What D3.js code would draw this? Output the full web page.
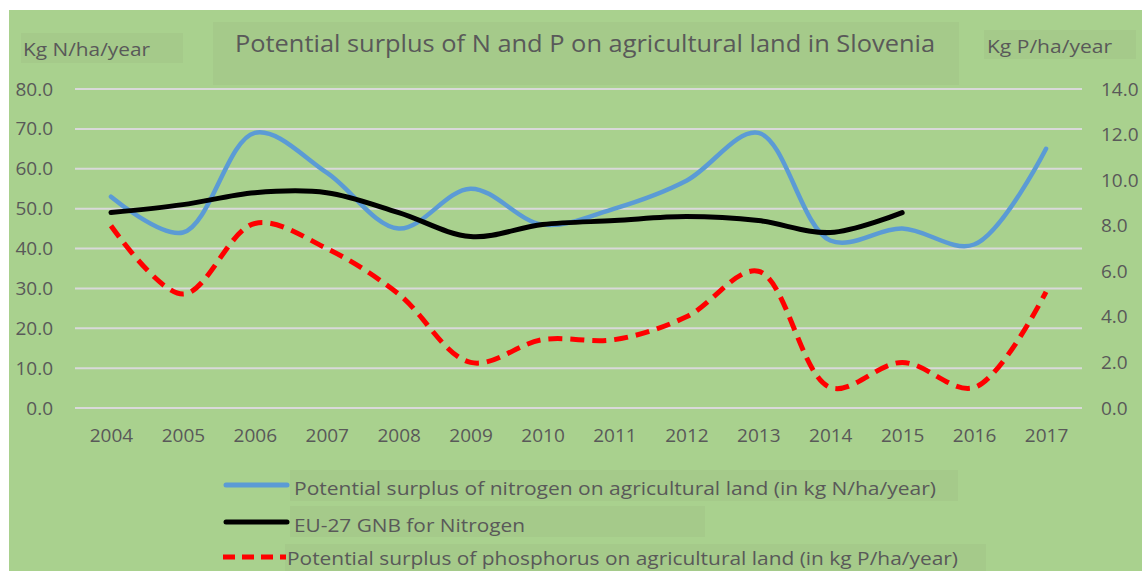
<!DOCTYPE html>
<html>
<head>
<meta charset="utf-8">
<script src="https://cdn.jsdelivr.net/npm/d3@7"></script>
<style>
  body { margin: 0; background: #fff; }
  text { font-family: "Open Sans", sans-serif; fill: #595959; }
</style>
</head>
<body>
<div class="chart"></div>
<script>
var years = [2004, 2005, 2006, 2007, 2008, 2009, 2010, 2011, 2012, 2013, 2014, 2015, 2016, 2017];
var nitrogen = [53, 44, 69, 59, 45, 55, 46, 50, 57, 69, 42, 45, 41, 65];
var euGnb = [49, 51, 54, 54, 49, 43, 46, 47, 48, 47, 44, 49];
var phosphorus = [8.0, 5.0, 8.1, 7.0, 5.0, 2.0, 3.0, 3.0, 4.0, 6.0, 0.9, 2.0, 0.9, 5.1];
var leftTicks = [0, 10, 20, 30, 40, 50, 60, 70, 80];
var rightTicks = [0, 2, 4, 6, 8, 10, 12, 14];
var legendLabels = [
  "Potential surplus of nitrogen on agricultural land (in kg N/ha/year)",
  "EU-27 GNB for Nitrogen",
  "Potential surplus of phosphorus on agricultural land (in kg P/ha/year)"
];

var svgWidth = 1142;
var svgHeight = 571;

var svg = d3.select(".chart")
  .append("svg")
  .attr("width", svgWidth)
  .attr("height", svgHeight);

// green panel
svg.append("rect")
  .attr("x", 9).attr("y", 10)
  .attr("width", svgWidth - 9).attr("height", svgHeight - 10)
  .attr("fill", "#a9d18e");

var boxFill = "#a5ca8a";

// scales
var x = d3.scalePoint().domain(years).range([75, 1082]).padding(0.5);
var yLeft = d3.scaleLinear().domain([0, 80]).range([408, 89]);
var yRight = d3.scaleLinear().domain([0, 14]).range([408, 89]);

// gridlines
svg.append("g")
  .selectAll("line")
  .data(leftTicks)
  .enter().append("line")
    .attr("x1", 75).attr("x2", 1082)
    .attr("y1", function(d) { return yLeft(d); })
    .attr("y2", function(d) { return yLeft(d); })
    .attr("stroke", "#d9d9d9")
    .attr("stroke-width", 2);

// axis labels
var leftAxis = d3.axisLeft(yLeft).tickValues(leftTicks).tickFormat(d3.format(".1f")).tickSize(0).tickPadding(0);
var gl = svg.append("g").attr("transform", "translate(53,0)").call(leftAxis);
gl.select(".domain").remove();
gl.selectAll("text").attr("font-size", 19).attr("fill", "#595959").attr("font-family", "Open Sans");

var rightAxis = d3.axisRight(yRight).tickValues(rightTicks).tickFormat(d3.format(".1f")).tickSize(0).tickPadding(0);
var gr = svg.append("g").attr("transform", "translate(1101,0)").call(rightAxis);
gr.select(".domain").remove();
gr.selectAll("text").attr("font-size", 19).attr("fill", "#595959").attr("font-family", "Open Sans");

var bottomAxis = d3.axisBottom(x).tickSize(0).tickPadding(0);
var gb = svg.append("g").attr("transform", "translate(0,428)").call(bottomAxis);
gb.select(".domain").remove();
gb.selectAll("text").attr("font-size", 19).attr("fill", "#595959").attr("font-family", "Open Sans");

// titles with their boxes
svg.append("rect").attr("x", 213).attr("y", 22).attr("width", 746).attr("height", 63).attr("fill", boxFill);
svg.append("text")
  .attr("x", 235).attr("y", 52)
  .attr("font-size", 24)
  .attr("textLength", 700).attr("lengthAdjust", "spacingAndGlyphs")
  .text("Potential surplus of N and P on agricultural land in Slovenia");

svg.append("rect").attr("x", 21).attr("y", 33).attr("width", 162).attr("height", 30).attr("fill", boxFill);
svg.append("text")
  .attr("x", 23).attr("y", 56)
  .attr("font-size", 19)
  .attr("textLength", 127).attr("lengthAdjust", "spacingAndGlyphs")
  .text("Kg N/ha/year");

svg.append("rect").attr("x", 984).attr("y", 30).attr("width", 152).attr("height", 29).attr("fill", boxFill);
svg.append("text")
  .attr("x", 987).attr("y", 53)
  .attr("font-size", 19)
  .attr("textLength", 125).attr("lengthAdjust", "spacingAndGlyphs")
  .text("Kg P/ha/year");

// lines
var curve = d3.curveCatmullRom.alpha(0.5);

var lineLeft = d3.line()
  .x(function(d, i) { return x(years[i]); })
  .y(function(d) { return yLeft(d); })
  .curve(curve);

var lineRight = d3.line()
  .x(function(d, i) { return x(years[i]); })
  .y(function(d) { return yRight(d); })
  .curve(curve);

svg.append("path")
  .datum(phosphorus)
  .attr("d", lineRight)
  .attr("fill", "none")
  .attr("stroke", "#ff0000")
  .attr("stroke-width", 5)
  .attr("stroke-dasharray", "14,8");

svg.append("path")
  .datum(nitrogen)
  .attr("d", lineLeft)
  .attr("fill", "none")
  .attr("stroke", "#5b9bd5")
  .attr("stroke-width", 4.5)
  .attr("stroke-linecap", "round");

svg.append("path")
  .datum(euGnb)
  .attr("d", lineLeft)
  .attr("fill", "none")
  .attr("stroke", "#000")
  .attr("stroke-width", 5)
  .attr("stroke-linecap", "round");

// legend (last row sits at the bottom edge, kept just inside it)
var legendItems = [
  { label: legendLabels[0], color: "#5b9bd5", dash: null, y: 485, ty: 495, box: [290, 470, 668, 31], tx: 294, len: 642 },
  { label: legendLabels[1], color: "#000", dash: null, y: 522, ty: 532, box: [290, 506, 415, 31], tx: 294, len: 231 },
  { label: legendLabels[2], color: "#ff0000", dash: "12,7", y: 557, ty: 565, box: [285, 544, 701, 27], tx: 287, len: 671 }
];

legendItems.forEach(function(item) {
  svg.append("rect")
    .attr("x", item.box[0]).attr("y", item.box[1])
    .attr("width", item.box[2]).attr("height", item.box[3])
    .attr("fill", boxFill);
  svg.append("line")
    .attr("x1", item.dash ? 223 : 226).attr("x2", item.dash ? 286 : 287)
    .attr("y1", item.y).attr("y2", item.y)
    .attr("stroke", item.color)
    .attr("stroke-width", 5)
    .attr("stroke-linecap", item.dash ? "butt" : "round")
    .attr("stroke-dasharray", item.dash);
  svg.append("text")
    .attr("x", item.tx).attr("y", item.ty)
    .attr("font-size", 19)
    .attr("textLength", item.len).attr("lengthAdjust", "spacingAndGlyphs")
    .text(item.label);
});
</script>
</body>
</html>
